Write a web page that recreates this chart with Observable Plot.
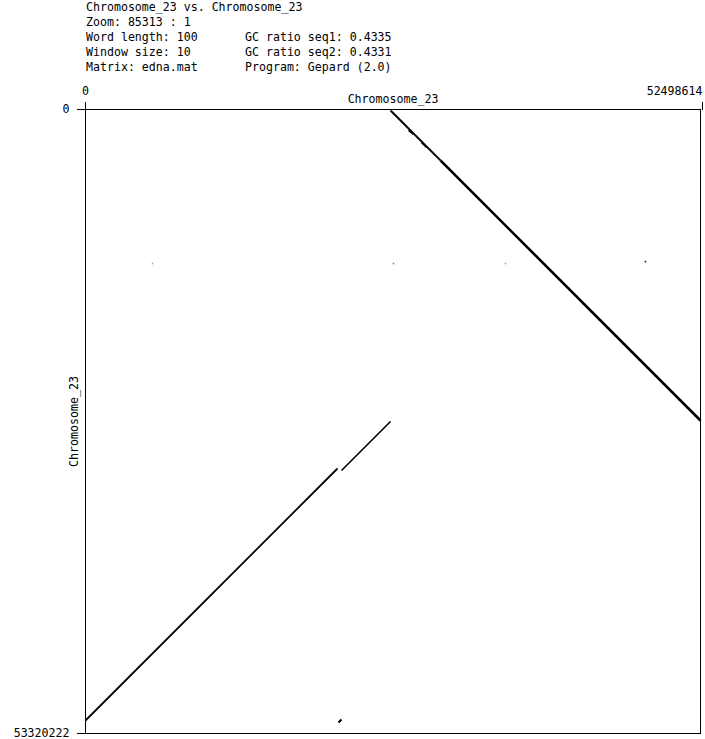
<!DOCTYPE html>
<html>
<head>
<meta charset="utf-8">
<script src="https://cdn.jsdelivr.net/npm/d3@7"></script>
<script src="https://cdn.jsdelivr.net/npm/@observablehq/plot@0.6"></script>
<style>
  html, body { margin: 0; padding: 0; background: #fff; }
  #wrap { position: relative; width: 705px; height: 739px; }
  .hdr { position: absolute; font-family: "DejaVu Sans Mono", monospace; font-size: 11.6px; line-height: 15px; white-space: pre; color: #000; }
</style>
</head>
<body>
<div id="wrap"></div>
<script>
// Header text
const headerLeft = ["Chromosome_23 vs. Chromosome_23", "Zoom: 85313 : 1", "Word length: 100", "Window size: 10", "Matrix: edna.mat"];
const headerRight = ["", "", "GC ratio seq1: 0.4335", "GC ratio seq2: 0.4331", "Program: Gepard (2.0)"];

// Axes
const seqName1 = "Chromosome_23";
const seqName2 = "Chromosome_23";
const xLength = 52498614;
const yLength = 53320222;

// Match segments (sequence 1 position x, sequence 2 position y)
const segX1 = [26040000, 30300000, 21853000, 0, 21597000];
const segY1 = [85000, 4350000, 30847000, 52209000, 52380000];
const segX2 = [30300000, 52498614, 26036000, 21512000, 21853000];
const segY2 = [4350000, 26575000, 26660000, 30676000, 52124000];
const segW = [2, 2.6, 1.6, 1.8, 2.2];

// Small extra hits near the upper diagonal start
const bumpX1 = [27572000, 28682000];
const bumpY1 = [1794000, 2820000];
const bumpX2 = [27999000, 29109000];
const bumpY2 = [2136000, 3247000];

// Faint isolated hits
const dotX = [5720000, 26290000, 35850000, 47800000];
const dotY = [13160000, 13160000, 13160000, 13000000];
const dotC = ["#aaa", "#888", "#aaa", "#222"];

const segments = segX1.map((d, i) => ({x1: d, y1: segY1[i], x2: segX2[i], y2: segY2[i], w: segW[i]}));
const bumps = bumpX1.map((d, i) => ({x1: d, y1: bumpY1[i], x2: bumpX2[i], y2: bumpY2[i]}));
const dots = dotX.map((d, i) => ({x: d, y: dotY[i], c: dotC[i]}));

const font = "DejaVu Sans Mono, monospace";

const chart = Plot.plot({
  width: 705,
  height: 739,
  marginLeft: 85,
  marginRight: 5,
  marginTop: 109,
  marginBottom: 6,
  style: {fontFamily: font, fontSize: "11.6px", background: "#fff", color: "#000"},
  x: {domain: [0, xLength], axis: null},
  y: {domain: [0, yLength], reverse: true, axis: null},
  marks: [
    Plot.frame({stroke: "#000", strokeWidth: 1}),
    Plot.axisX({anchor: "top", ticks: [0], tickSize: 8, tickPadding: 7, tickFormat: d => String(d), label: null, fontSize: 11.6}),
    Plot.axisX({anchor: "top", ticks: [xLength], tickSize: 8, tickPadding: 7, textAnchor: "end", dx: 2, tickFormat: d => String(d), label: null, fontSize: 11.6}),
    Plot.axisY({anchor: "left", ticks: [0, yLength], tickSize: 8, tickPadding: 8, tickFormat: d => String(d), label: null, fontSize: 11.6}),
    Plot.text([seqName1], {frameAnchor: "top", dy: -10, lineAnchor: "middle", text: d => d, fontSize: 11.6, fill: "#000"}),
    Plot.text([seqName2], {frameAnchor: "left", dx: -11, rotate: -90, textAnchor: "middle", lineAnchor: "middle", text: d => d, fontSize: 11.6, fill: "#000"}),
    Plot.dot(dots, {x: "x", y: "y", r: 0.9, fill: "c", stroke: null}),
    Plot.link(segments, {x1: "x1", y1: "y1", x2: "x2", y2: "y2", stroke: "#000", strokeWidth: "w"}),
    Plot.link(bumps, {x1: "x1", y1: "y1", x2: "x2", y2: "y2", stroke: "#000", strokeWidth: 1.6})
  ]
});

const wrap = document.getElementById("wrap");
wrap.appendChild(chart);
chart.style.position = "absolute";
chart.style.left = "0px";
chart.style.top = "0px";

function addLine(text, left, i) {
  if (!text) return;
  const d = document.createElement("div");
  d.className = "hdr";
  d.style.left = left + "px";
  d.style.top = (i * 15) + "px";
  d.textContent = text;
  wrap.appendChild(d);
}
headerLeft.forEach((t, i) => addLine(t, 86, i));
headerRight.forEach((t, i) => addLine(t, 245, i));
</script>
</body>
</html>
